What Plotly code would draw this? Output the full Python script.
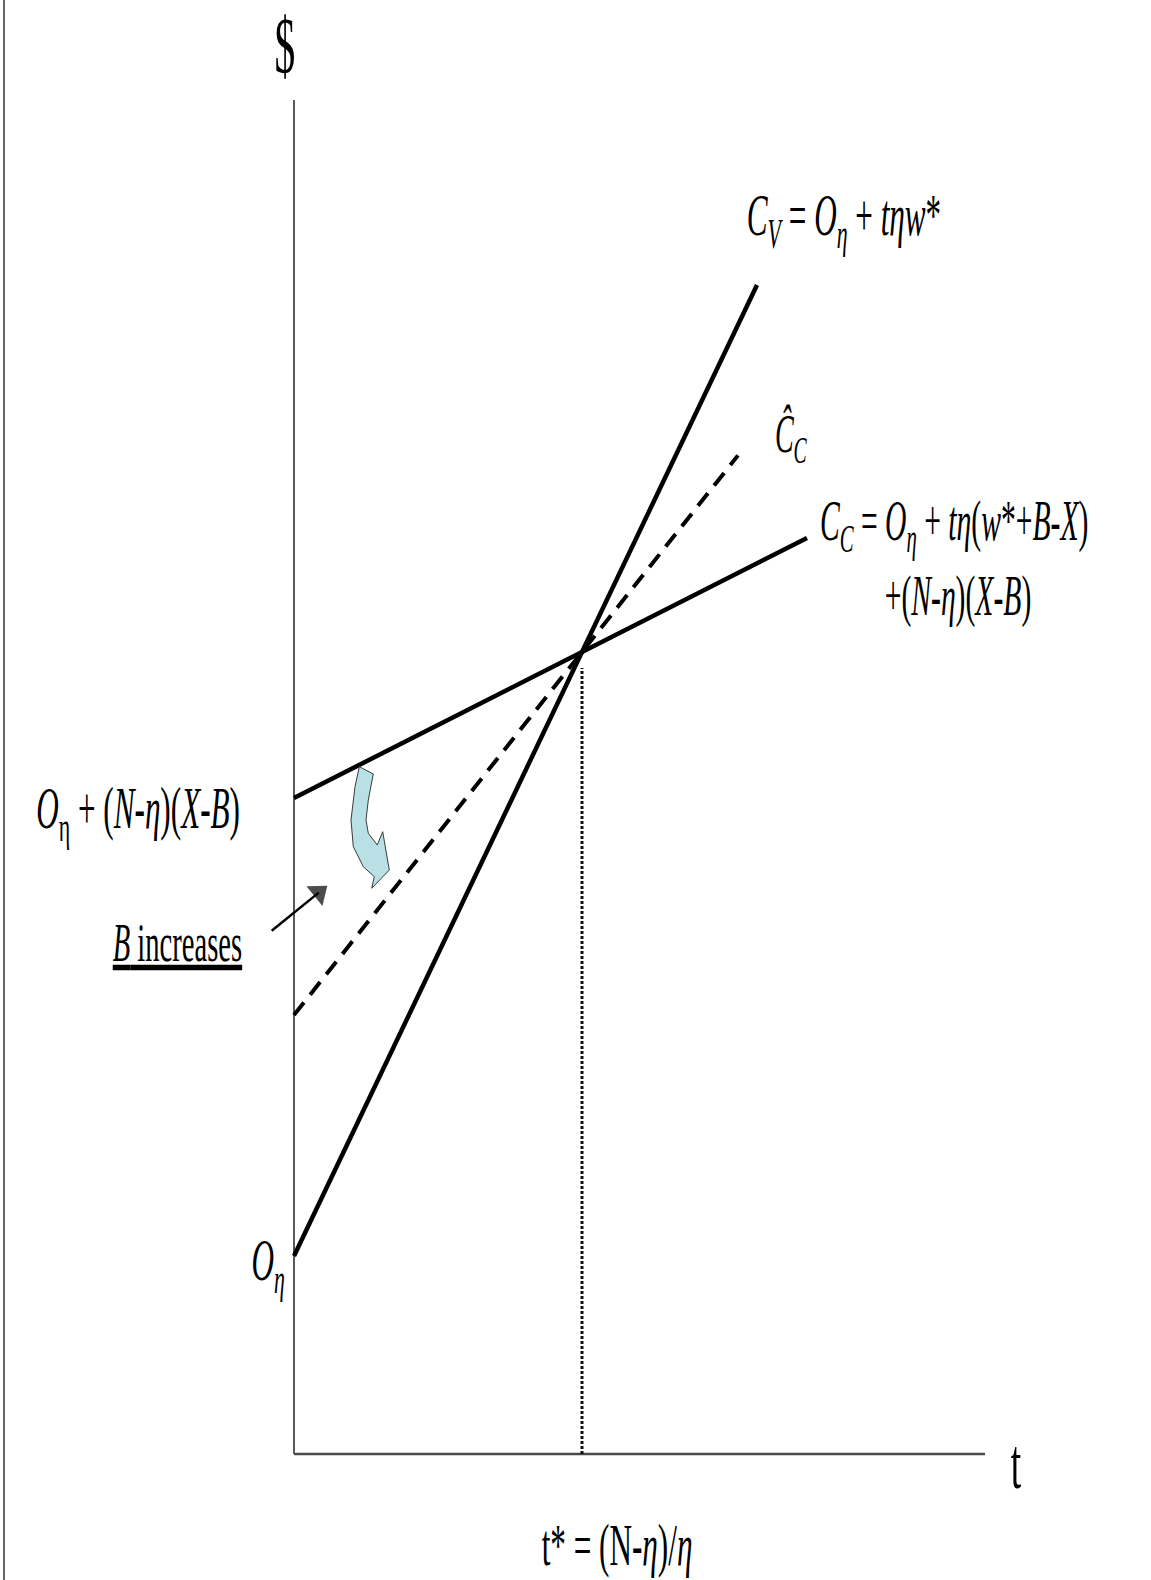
import math
import plotly.graph_objects as go

# ---- model values (t on the horizontal, $ on the vertical) ----
t_star = 2.88            # t* = (N-η)/η, where all three cost lines meet
v_star = 8.02            # common cost level at t*
o_eta = 1.98             # O_η : intercept of C_V
cc_intercept = 6.56      # O_η + (N-η)(X-B) : intercept of C_C
cchat_intercept = 4.39   # intercept of Ĉ_C once B increases

line_keys = ["cv", "cchat", "cc"]
line_intercepts = [o_eta, cchat_intercept, cc_intercept]
line_t_end = [4.63, 4.44, 5.13]
line_dash = ["solid", "16px,10px", "solid"]
line_width = [4.5, 4, 4.5]

t_axis_end = 6.91
dollar_axis_end = 13.54
dotted_top = 7.86

# outline of the curved "shift" arrow running from C_C down to Ĉ_C
shift_arrow_t = [0.653, 0.793, 0.743, 0.720, 0.743, 0.833, 0.887, 0.953,
                 0.777, 0.803, 0.693, 0.593, 0.570, 0.610]
shift_arrow_v = [6.873, 6.800, 6.540, 6.340, 6.207, 6.090, 6.223, 5.840,
                 5.657, 5.773, 5.873, 6.073, 6.340, 6.673]

# straight pointer next to "B increases" (tail, tip)
pointer_t = [-0.223, 0.333]
pointer_v = [5.233, 5.683]

FONT = "Liberation Serif"
TEXT_SQUEEZE = 0.52      # narrow (condensed) lettering
HEAD_SIZE = 22           # marker size of the pointer head (px)

fig = go.Figure()

# axes
fig.add_trace(go.Scatter(x=[0, 0], y=[0, dollar_axis_end], mode="lines",
                         line=dict(color="#222222", width=1.5),
                         hoverinfo="skip", showlegend=False))
fig.add_trace(go.Scatter(x=[0, t_axis_end], y=[0, 0], mode="lines",
                         line=dict(color="#4a4a4a", width=2.5),
                         hoverinfo="skip", showlegend=False))

# dotted drop line at t*
fig.add_trace(go.Scatter(x=[t_star, t_star], y=[0, dotted_top], mode="lines",
                         line=dict(color="#111111", width=3, dash="3px,2px"),
                         hoverinfo="skip", showlegend=False))

# cost lines: each passes through (t*, v*)
for key, b, t_end, dash, w in zip(line_keys, line_intercepts, line_t_end,
                                  line_dash, line_width):
    slope = (v_star - b) / t_star
    fig.add_trace(go.Scatter(x=[0, t_end], y=[b, b + slope * t_end],
                             mode="lines", name=key,
                             line=dict(color="black", width=w, dash=dash),
                             hoverinfo="skip", showlegend=False))

# curved shift arrow
path = "M " + " L ".join(f"{t},{v}" for t, v in zip(shift_arrow_t, shift_arrow_v)) + " Z"
fig.add_shape(type="path", xref="x", yref="y", path=path,
              fillcolor="#b9e0e4", line=dict(color="#3a3a3a", width=1))

# straight pointer: the triangle head is centred just short of the tip
dt = pointer_t[1] - pointer_t[0]
dv = pointer_v[1] - pointer_v[0]
seg = math.hypot(dt, dv)
back = (HEAD_SIZE / 2) / 100.0   # half a head, in axis units (100 px per unit)
head_t = pointer_t[1] - dt / seg * back
head_v = pointer_v[1] - dv / seg * back
fig.add_trace(go.Scatter(x=[pointer_t[0], head_t], y=[pointer_v[0], head_v],
                         mode="lines+markers",
                         line=dict(color="black", width=2.5),
                         marker=dict(symbol=["circle", "triangle-up"],
                                     size=[0, HEAD_SIZE], angleref="previous",
                                     color="black", line=dict(width=0)),
                         hoverinfo="skip", showlegend=False))

labels = [
    ("$", -0.09, 14.08, 80),
    ("t", 7.22, -0.10, 72),
    ("<i>C</i><sub><i>V</i></sub> = <i>O</i><sub><i>η</i></sub> + <i>tηw</i>*",
     5.50, 12.35, 60),
    ("<i>Ĉ</i><sub><i>C</i></sub>", 4.97, 10.17, 54),
    ("<i>C</i><sub><i>C</i></sub> = <i>O</i><sub><i>η</i></sub> + <i>tη</i>(<i>w</i>*+<i>B</i>-<i>X</i>)",
     6.60, 9.29, 57),
    ("+(<i>N</i>-<i>η</i>)(<i>X</i>-<i>B</i>)", 6.64, 8.58, 57),
    ("<i>O</i><sub>η</sub> + (<i>N</i>-<i>η</i>)(<i>X</i>-<i>B</i>)", -1.56, 6.42, 60),
    ("<u><i>B</i> increases</u>", -1.17, 5.12, 55),
    ("<i>O</i><sub><i>η</i></sub>", -0.265, 1.90, 60),
    ("t* = (N-<i>η</i>)/<i>η</i>", 3.23, -0.91, 60),
]
for text, x, y, size in labels:
    fig.add_annotation(x=x, y=y, xref="x", yref="y", text=text, showarrow=False,
                       xanchor="center", yanchor="middle", align="center",
                       borderpad=0, font=dict(family=FONT, size=size, color="black"))

# left frame edge
fig.add_shape(type="line", xref="paper", yref="paper", x0=4 / 1151, x1=4 / 1151,
              y0=0, y1=1, line=dict(color="#333333", width=1.5))

fig.update_layout(
    width=1151, height=1580,
    margin=dict(l=0, r=0, t=0, b=0),
    paper_bgcolor="white", plot_bgcolor="white",
    hovermode=False, showlegend=False,
    xaxis=dict(range=[-2.94, 8.57], visible=False, fixedrange=True),
    yaxis=dict(range=[-1.26, 14.54], visible=False, fixedrange=True),
)

squeeze_js = """
var gd = document.getElementById('{plot_id}');
gd.querySelectorAll('g.annotation text.annotation-text').forEach(function (t) {
  var b = t.getBBox();
  if (!b.width) { return; }
  var cx = b.x + b.width / 2;
  t.setAttribute('transform', 'translate(' + cx + ',0) scale(%s,1) translate(' + (-cx) + ',0)');
});
""" % TEXT_SQUEEZE

fig.write_html("out.html", post_script=squeeze_js,
               config={"displayModeBar": False, "responsive": False})
